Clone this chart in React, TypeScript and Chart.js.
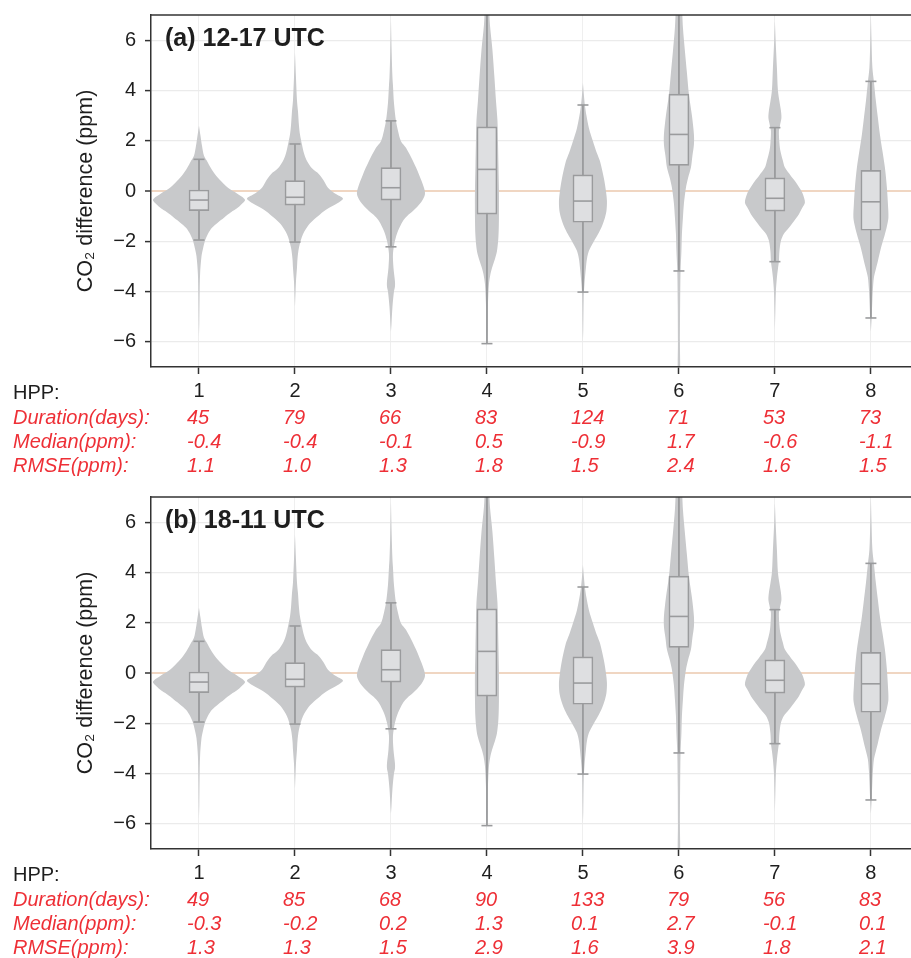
import React, { useEffect, useRef } from 'react';
import { Chart, registerables } from 'chart.js';

Chart.register(...registerables);

// ---------------- data ----------------
const CATEGORIES = [1, 2, 3, 4, 5, 6, 7, 8];
const Y_TICKS = [-6, -4, -2, 0, 2, 4, 6];

// box-plot statistics (ppm), identical in both panels
const BOX_Q1 = [-0.78, -0.56, -0.36, -0.92, -1.24, 1.02, -0.8, -1.56];
const BOX_MEDIAN = [-0.36, -0.25, 0.13, 0.86, -0.4, 2.25, -0.29, -0.43];
const BOX_Q3 = [0.04, 0.41, 0.93, 2.55, 0.64, 3.85, 0.52, 0.82];
const WHISKER_LOW = [-1.95, -2.03, -2.22, -6.07, -4.02, -3.18, -2.81, -5.05];
const WHISKER_HIGH = [1.26, 1.87, 2.79, 8.5, 3.42, 9.5, 2.52, 4.36];

// violin density profiles: [CO2 difference (ppm), relative density]
const VIOLIN_1: [number, number][] = [
  [2.6, 0], [2.2, 1.5], [1.8, 3], [1.4, 5], [1.19, 8], [0.9, 12], [0.67, 16], [0.4, 22],
  [0.13, 29], [-0.1, 38], [-0.35, 46], [-0.55, 42], [-0.66, 39], [-0.85, 32], [-1.06, 25],
  [-1.25, 19], [-1.46, 13], [-1.7, 9], [-1.98, 6], [-2.3, 4], [-2.6, 2.5], [-3.3, 1.1],
  [-4.2, 0.6], [-5.2, 0.3], [-5.8, 0],
];
const VIOLIN_2: [number, number][] = [
  [5.5, 0], [4.5, 1], [3.6, 2], [3.17, 3], [2.6, 4], [2.25, 5], [1.85, 7], [1.5, 9],
  [1.19, 12], [0.9, 17], [0.67, 24], [0.4, 29], [0.13, 33], [-0.1, 40], [-0.3, 48],
  [-0.5, 42], [-0.7, 33], [-0.93, 25], [-1.13, 19], [-1.33, 14], [-1.72, 8], [-2.25, 4],
  [-2.7, 2.5], [-3.05, 2], [-3.6, 1], [-4.6, 0],
];
const VIOLIN_3: [number, number][] = [
  [6.8, 0], [5.5, 0.7], [4.5, 1.5], [4.2, 2], [3.5, 3], [2.78, 5], [2.4, 7], [1.98, 10],
  [1.72, 15], [1.19, 22], [0.66, 28], [0.13, 33], [-0.13, 34], [-0.4, 31], [-0.6, 27],
  [-0.8, 22], [-1.0, 16], [-1.19, 12], [-1.59, 7], [-1.98, 4], [-2.5, 2], [-3.05, 2.5],
  [-3.6, 4], [-3.8, 4], [-4.0, 3], [-4.6, 1.5], [-5.3, 0.5], [-5.6, 0],
];
const VIOLIN_4: [number, number][] = [
  [7.4, 2], [6.6, 3], [5.6, 5.5], [4.5, 7.5], [3.6, 9], [2.8, 10.5], [2, 11], [1, 11.5],
  [0, 12], [-1, 12], [-1.8, 11.5], [-2.4, 10], [-2.7, 8], [-3.0, 5.5], [-3.3, 3.5],
  [-3.7, 2], [-4.5, 1], [-5.5, 0.6], [-6.2, 0],
];
const VIOLIN_5: [number, number][] = [
  [4.3, 0], [3.8, 1], [3.4, 2], [3.0, 3.5], [2.5, 6], [1.98, 10], [1.5, 14], [1.19, 17],
  [0.5, 21], [0, 23], [-0.4, 24], [-0.8, 23.5], [-1.06, 22], [-1.4, 19], [-1.72, 15],
  [-2.0, 11], [-2.38, 6], [-2.7, 4], [-3.04, 3], [-3.7, 1.5], [-4.2, 0.8], [-5.5, 0.3], [-6, 0],
];
const VIOLIN_6: [number, number][] = [
  [7.4, 3], [6.5, 4], [5.56, 6], [4.7, 8], [3.84, 10], [3.0, 13], [2.25, 15], [1.85, 15],
  [1.4, 13.5], [0.93, 12], [0.5, 9], [0.13, 7], [-0.5, 5], [-1.06, 4], [-1.7, 3],
  [-2.38, 2.5], [-3.2, 1.6], [-4.5, 1.2], [-6, 1], [-7.4, 1],
];
const VIOLIN_7: [number, number][] = [
  [6.75, 0], [6, 0.7], [4.9, 2], [4.0, 3], [3.57, 4.5], [3.2, 6], [2.9, 6.5], [2.6, 5],
  [2.38, 4], [1.9, 4.5], [1.59, 5.5], [1.2, 8], [0.93, 10], [0.6, 16], [0.4, 20], [0.1, 25],
  [-0.13, 28], [-0.46, 30], [-0.7, 27], [-0.92, 24], [-1.2, 19], [-1.46, 14], [-1.7, 9],
  [-1.98, 6], [-2.4, 4.5], [-2.78, 4], [-3.1, 3], [-3.44, 2], [-3.97, 1], [-4.8, 0.4], [-5.5, 0],
];
const VIOLIN_8: [number, number][] = [
  [7, 0], [6, 0.6], [4.9, 1.5], [4.35, 3], [3.57, 5], [2.9, 7], [2.25, 9], [1.6, 11.5],
  [0.93, 14], [0.13, 16], [-0.5, 17], [-1.06, 17.5], [-1.4, 16], [-1.72, 14], [-2.2, 10.5],
  [-2.78, 7], [-3.1, 5], [-3.44, 3], [-3.9, 2], [-4.3, 1.5], [-5.0, 0.8], [-5.6, 0],
];
const VIOLINS = [VIOLIN_1, VIOLIN_2, VIOLIN_3, VIOLIN_4, VIOLIN_5, VIOLIN_6, VIOLIN_7, VIOLIN_8];

// table rows
const ROW_LABELS = ['Duration(days):', 'Median(ppm):', 'RMSE(ppm):'];
const DURATION_A = [45, 79, 66, 83, 124, 71, 53, 73];
const MEDIAN_A = [-0.4, -0.4, -0.1, 0.5, -0.9, 1.7, -0.6, -1.1];
const RMSE_A = [1.1, 1.0, 1.3, 1.8, 1.5, 2.4, 1.6, 1.5];
const DURATION_B = [49, 85, 68, 90, 133, 79, 56, 83];
const MEDIAN_B = [-0.3, -0.2, 0.2, 1.3, 0.1, 2.7, -0.1, 0.1];
const RMSE_B = [1.3, 1.3, 1.5, 2.9, 1.6, 3.9, 1.8, 2.1];

// ---------------- styles ----------------
const FONT = "'Liberation Sans', Arial, Helvetica, sans-serif";
const DENSITY_SCALE = 1 / 96; // relative density -> category units (half width)
const VIOLIN_COLOR = '#c8c9cb';
const BOX_FILL = '#dedfe1';
const BOX_EDGE = '#9a9b9d';
const AXIS_COLOR = '#333333';
const GRID_COLOR = '#ebebeb';
const ZERO_COLOR = '#f0d6c2';
const RED = '#ee2f36';
const TEXT = '#1e1e1e';
const CANVAS_W = 930;
const CANVAS_H = 482;

Chart.defaults.font.family = FONT;

function buildDatasets(): any[] {
  const ds: any[] = [];
  VIOLINS.forEach((profile, i) => {
    const c = CATEGORIES[i];
    const sorted = [...profile].sort((a, b) => b[0] - a[0]);
    const right = sorted.map(([y, d]) => ({ x: c + d * DENSITY_SCALE, y }));
    const left = [...sorted].reverse().map(([y, d]) => ({ x: c - d * DENSITY_SCALE, y }));
    ds.push({
      type: 'line',
      data: [...right, ...left],
      fill: 'shape',
      backgroundColor: VIOLIN_COLOR,
      borderColor: 'rgba(0,0,0,0)',
      borderWidth: 0,
      pointRadius: 0,
      tension: 0.3,
      order: 5,
    });
  });
  const whisk: any[] = [];
  CATEGORIES.forEach((c, i) => {
    whisk.push({ x: c, y: WHISKER_LOW[i] }, { x: c, y: WHISKER_HIGH[i] }, { x: c, y: null });
  });
  ds.push({
    type: 'line',
    data: whisk,
    borderColor: BOX_EDGE,
    borderWidth: 1.8,
    pointRadius: 0,
    spanGaps: false,
    fill: false,
    order: 4,
  });
  ds.push({
    type: 'bar',
    data: CATEGORIES.map((c, i) => ({ x: c, y: [BOX_Q1[i], BOX_Q3[i]] })),
    backgroundColor: BOX_FILL,
    borderColor: BOX_EDGE,
    borderWidth: 1.6,
    borderSkipped: false,
    barThickness: 20,
    grouped: false,
    order: 3,
  });
  ds.push({
    type: 'line',
    data: CATEGORIES.flatMap((c, i) => [
      { x: c, y: WHISKER_LOW[i] },
      { x: c, y: WHISKER_HIGH[i] },
    ]),
    showLine: false,
    pointStyle: 'line',
    pointRadius: 5.5,
    pointBorderWidth: 1.6,
    pointBorderColor: BOX_EDGE,
    fill: false,
    order: 1,
  });
  ds.push({
    type: 'line',
    data: CATEGORIES.map((c, i) => ({ x: c, y: BOX_MEDIAN[i] })),
    showLine: false,
    pointStyle: 'line',
    pointRadius: 9.5,
    pointBorderWidth: 1.6,
    pointBorderColor: BOX_EDGE,
    fill: false,
    order: 0,
  });
  return ds;
}

function fmt(v: number) {
  return v.toFixed(1);
}

function Panel(props: { label: string; duration: number[]; median: number[]; rmse: number[]; top: number }) {
  const ref = useRef<HTMLCanvasElement>(null);
  useEffect(() => {
    const { label, duration, median, rmse } = props;
    const overlay = {
      id: 'overlay',
      afterDatasetsDraw(chart: any) {
        const { ctx, chartArea } = chart;
        ctx.save();
        ctx.strokeStyle = AXIS_COLOR;
        ctx.lineWidth = 1.5;
        ctx.beginPath();
        ctx.moveTo(chartArea.left - 0.75, chartArea.top);
        ctx.lineTo(chartArea.right, chartArea.top);
        ctx.stroke();
        ctx.fillStyle = TEXT;
        ctx.font = `bold 25px ${FONT}`;
        ctx.textAlign = 'left';
        ctx.textBaseline = 'alphabetic';
        ctx.fillText(label, chartArea.left + 14, chartArea.top + 31);
        ctx.restore();
      },
      afterDraw(chart: any) {
        const { ctx, chartArea } = chart;
        const xs = chart.scales.x;
        const b = chartArea.bottom;
        ctx.save();
        ctx.textAlign = 'left';
        ctx.textBaseline = 'alphabetic';
        ctx.fillStyle = TEXT;
        ctx.font = `20px ${FONT}`;
        ctx.fillText('HPP:', 13, b + 32);
        ctx.fillStyle = RED;
        ctx.font = `italic 20px ${FONT}`;
        const rows = [duration.map(String), median.map(fmt), rmse.map(fmt)];
        const offs = [56.5, 80.5, 105];
        rows.forEach((vals, r) => {
          ctx.fillText(ROW_LABELS[r], 13, b + offs[r]);
          vals.forEach((v, i) => {
            ctx.fillText(v, xs.getPixelForValue(CATEGORIES[i]) - 12, b + offs[r]);
          });
        });
        ctx.restore();
      },
    };
    const chart = new Chart(ref.current as HTMLCanvasElement, {
      type: 'bar',
      data: { datasets: buildDatasets() },
      options: {
        responsive: false,
        animation: false,
        devicePixelRatio: 1,
        layout: { padding: { top: 15, right: 10, left: 0, bottom: 0 } },
        plugins: { legend: { display: false }, tooltip: { enabled: false } },
        scales: {
          x: {
            type: 'linear',
            min: 0.5,
            max: 8.5,
            offset: false,
            afterBuildTicks: (s: any) => {
              s.ticks = CATEGORIES.map((v) => ({ value: v }));
            },
            afterFit: (s: any) => {
              s.height = CANVAS_H - 367;
              s.paddingLeft = 0;
              s.paddingRight = 0;
            },
            grid: {
              offset: false,
              color: '#efefef',
              lineWidth: 1,
              drawTicks: true,
              tickLength: 7,
              tickColor: AXIS_COLOR,
              tickWidth: 1.5,
            },
            border: { display: true, color: AXIS_COLOR, width: 1.5, z: 1 },
            ticks: {
              color: TEXT,
              font: { size: 20, family: FONT },
              padding: 5,
              maxRotation: 0,
              callback: (v: any) => String(v),
            },
          },
          y: {
            type: 'linear',
            min: -7,
            max: 7,
            afterBuildTicks: (s: any) => {
              s.ticks = Y_TICKS.map((v) => ({ value: v }));
            },
            afterFit: (s: any) => {
              s.width = 151;
              s.paddingTop = 0;
              s.paddingBottom = 0;
            },
            grid: {
              color: (c: any) => (c.tick && c.tick.value === 0 ? ZERO_COLOR : GRID_COLOR),
              lineWidth: (c: any) => (c.tick && c.tick.value === 0 ? 2 : 1.2),
              drawTicks: true,
              tickLength: 6,
              tickColor: AXIS_COLOR,
              tickWidth: 1.5,
            },
            border: { display: true, color: AXIS_COLOR, width: 1.5, z: 1 },
            ticks: {
              color: TEXT,
              font: { size: 20, family: FONT },
              padding: 9,
              callback: (v: any) => (Number(v) < 0 ? '\u2212' + Math.abs(Number(v)) : String(v)),
            },
            title: {
              display: true,
              text: 'CO\u2082 difference (ppm)',
              color: TEXT,
              font: { size: 21.5, family: FONT, lineHeight: 1.2 },
              padding: { top: 73, bottom: 0 },
            },
          },
        },
      } as any,
      plugins: [overlay],
    });
    return () => chart.destroy();
  }, []);
  return (
    <canvas
      ref={ref}
      width={CANVAS_W}
      height={CANVAS_H}
      style={{ position: 'absolute', left: 0, top: props.top, width: CANVAS_W, height: CANVAS_H }}
    />
  );
}

export default function App() {
  return (
    <div
      style={{
        position: 'fixed',
        left: 0,
        top: 0,
        width: 911,
        height: 958,
        overflow: 'hidden',
        background: '#ffffff',
      }}
    >
      <Panel label="(a) 12-17 UTC" duration={DURATION_A} median={MEDIAN_A} rmse={RMSE_A} top={0} />
      <Panel label="(b) 18-11 UTC" duration={DURATION_B} median={MEDIAN_B} rmse={RMSE_B} top={482} />
    </div>
  );
}
